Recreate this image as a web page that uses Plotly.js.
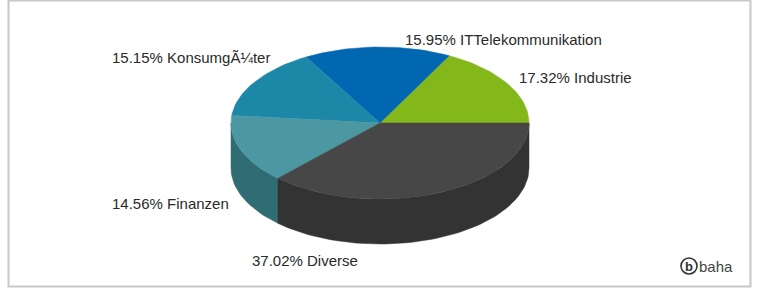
<!DOCTYPE html>
<html>
<head>
<meta charset="utf-8">
<script src="https://cdn.plot.ly/plotly-3.0.1.min.js"></script>
<style>
  html, body { margin: 0; padding: 0; background: #ffffff; }
  #chart { width: 757px; height: 291px; }
</style>
</head>
<body>
<div id="chart"></div>
<script>
// ---- data ----
const categories = ['Industrie', 'ITTelekommunikation', 'KonsumgÃ¼ter', 'Finanzen', 'Diverse'];
const shares = [17.32, 15.95, 15.15, 14.56, 37.02];

// ---- styles ----
const topColors  = ['#84b71a', '#0267b1', '#1d87a8', '#4b97a2', '#474747'];
const sideColors = ['#5c8212', '#01497e', '#156178', '#306c73', '#333333'];
const labelPos = [[517, 77], [403, 39], [110, 57], [110, 203], [250, 260]];

// ---- geometry of the pseudo-3D pie (pixel space) ----
const cx = 380, cy = 123, rx = 149, ry = 76, depth = 45;

function pt(deg, dy) {
  const a = deg * Math.PI / 180;
  return [cx + rx * Math.cos(a), cy - ry * Math.sin(a) + (dy || 0)];
}
function arc(a0, a1, dy) {
  const n = Math.max(2, Math.ceil(Math.abs(a1 - a0) / 2));
  const out = [];
  for (let i = 0; i <= n; i++) out.push(pt(a0 + (a1 - a0) * i / n, dy));
  return out;
}

const total = shares.reduce((s, v) => s + v, 0);
const sideTraces = [], topTraces = [];
let start = 0;
shares.forEach((v, i) => {
  const a0 = start, a1 = start + v / total * 360;
  start = a1;
  // visible side wall (front half: 180..360 deg)
  const s = Math.max(a0, 180), e = Math.min(a1, 360);
  if (s < e) {
    const pts = arc(s, e, 0).concat(arc(e, s, depth));
    pts.push(pts[0]);
    sideTraces.push({
      type: 'scatter', mode: 'lines', fill: 'toself',
      x: pts.map(p => p[0]), y: pts.map(p => p[1]),
      fillcolor: sideColors[i], line: { width: 0.5, color: sideColors[i] },
      hoverinfo: 'skip', showlegend: false
    });
  }
  // top face sector
  const tp = [[cx, cy]].concat(arc(a0, a1, 0));
  tp.push([cx, cy]);
  topTraces.push({
    type: 'scatter', mode: 'lines', fill: 'toself',
    x: tp.map(p => p[0]), y: tp.map(p => p[1]),
    fillcolor: topColors[i], line: { width: 0.5, color: topColors[i] },
    name: categories[i], text: shares[i].toFixed(2) + '% ' + categories[i],
    hoverinfo: 'text', showlegend: false
  });
});

const annotations = categories.map((c, i) => ({
  x: labelPos[i][0], y: labelPos[i][1], xref: 'x', yref: 'y',
  xanchor: 'left', yanchor: 'middle', showarrow: false,
  text: shares[i].toFixed(2) + '% ' + c,
  font: { family: 'Liberation Sans, Arial, sans-serif', size: 15, color: '#2a2a2a' }
}));
// logo
annotations.push({
  x: 689, y: 266, xref: 'x', yref: 'y', xanchor: 'center', yanchor: 'middle',
  showarrow: false, text: '<b>b</b>',
  font: { family: 'Liberation Sans, Arial, sans-serif', size: 13, color: '#333' }
});
annotations.push({
  x: 697, y: 266, xref: 'x', yref: 'y', xanchor: 'left', yanchor: 'middle',
  showarrow: false, text: 'baha',
  font: { family: 'Liberation Sans, Arial, sans-serif', size: 15, color: '#444' }
});

const layout = {
  width: 757, height: 291,
  margin: { l: 0, r: 0, t: 0, b: 0 },
  paper_bgcolor: '#ffffff', plot_bgcolor: '#ffffff',
  xaxis: { range: [0, 757], visible: false, fixedrange: true },
  yaxis: { range: [291, 0], visible: false, fixedrange: true },
  annotations: annotations,
  shapes: [
    { type: 'rect', xref: 'x', yref: 'y', x0: 8.5, y0: 0.5, x1: 750.5, y1: 286.5,
      line: { color: '#c8c8c8', width: 2 }, fillcolor: 'rgba(0,0,0,0)', layer: 'below' },
    { type: 'circle', xref: 'x', yref: 'y', x0: 681, y0: 258, x1: 697, y1: 274,
      line: { color: '#333', width: 1.6 }, fillcolor: 'rgba(0,0,0,0)' }
  ],
  showlegend: false
};

Plotly.newPlot('chart', sideTraces.concat(topTraces), layout, { displayModeBar: false, staticPlot: true });
</script>
</body>
</html>
